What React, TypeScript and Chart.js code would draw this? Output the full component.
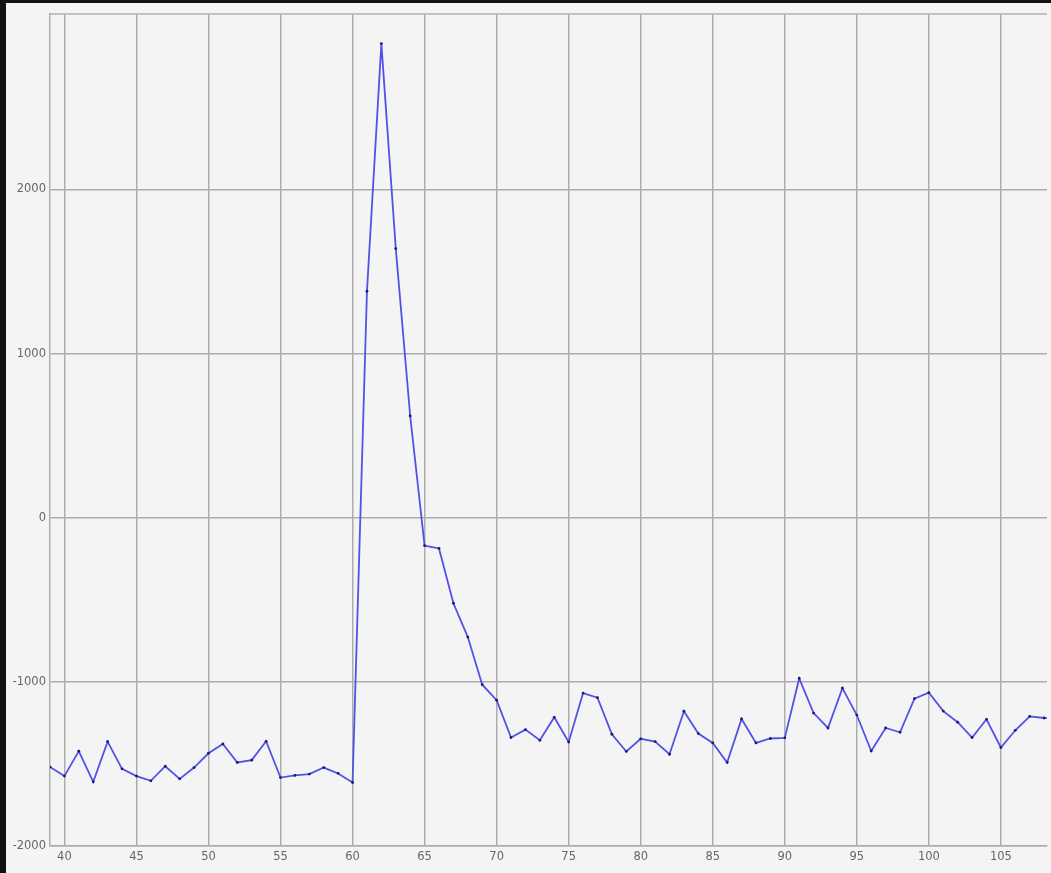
import React, { useEffect, useRef } from "react";
import { Chart, registerables } from "chart.js";

Chart.register(...registerables);

const xValues = [
  39, 40, 41, 42, 43, 44, 45, 46, 47, 48, 49, 50, 51, 52, 53, 54, 55, 56, 57, 58, 59,
  60, 61, 62, 63, 64, 65, 66, 67, 68, 69, 70, 71, 72, 73, 74, 75, 76, 77, 78, 79,
  80, 81, 82, 83, 84, 85, 86, 87, 88, 89, 90, 91, 92, 93, 94, 95, 96, 97, 98, 99,
  100, 101, 102, 103, 104, 105, 106, 107, 108, 109,
];

const yValues = [
  -1518, -1574, -1422, -1609, -1364, -1530, -1574, -1603, -1514, -1591, -1522,
  -1435, -1378, -1491, -1477, -1362, -1583, -1570, -1562, -1522, -1558,
  -1613, 1380, 2889, 1640, 620, -170, -187, -521, -727, -1017,
  -1112, -1339, -1291, -1356, -1216, -1366, -1068, -1096, -1319, -1424,
  -1347, -1364, -1441, -1179, -1315, -1372, -1491, -1226, -1372, -1345,
  -1341, -979, -1190, -1281, -1038, -1202, -1421, -1281, -1307, -1102,
  -1066, -1178, -1246, -1339, -1228, -1400, -1295, -1210, -1220, -1225,
];

const xTicks = [40, 45, 50, 55, 60, 65, 70, 75, 80, 85, 90, 95, 100, 105];
const yTicks = [-2000, -1000, 0, 1000, 2000];

const topBorderPlugin = {
  id: "topBorder",
  afterDraw(chart: any) {
    const { ctx, chartArea } = chart;
    ctx.save();
    ctx.strokeStyle = "#b0b0b0";
    ctx.lineWidth = 1.5;
    ctx.beginPath();
    ctx.moveTo(chartArea.left, chartArea.top);
    ctx.lineTo(chartArea.right, chartArea.top);
    ctx.stroke();
    ctx.restore();
  },
};

export default function App() {
  const ref = useRef<HTMLCanvasElement | null>(null);

  useEffect(() => {
    if (!ref.current) return;
    const chart = new Chart(ref.current, {
      type: "line",
      data: {
        datasets: [
          {
            data: xValues.map((x, i) => ({ x, y: yValues[i] })),
            borderColor: "#5252e6",
            borderWidth: 1.8,
            pointRadius: 1.4,
            pointBackgroundColor: "#1c1c6a",
            pointBorderColor: "#1c1c6a",
            pointBorderWidth: 0,
            tension: 0,
          },
        ],
      },
      plugins: [topBorderPlugin],
      options: {
        animation: false,
        responsive: false,
        maintainAspectRatio: false,
        layout: { padding: { top: 9, right: 0, left: 0, bottom: 0 } },
        plugins: {
          legend: { display: false },
          tooltip: { enabled: false },
        },
        scales: {
          x: {
            type: "linear",
            min: 39,
            max: 108.2,
            afterBuildTicks: (scale: any) => {
              scale.ticks = xTicks.map((v) => ({ value: v }));
            },
            afterFit: (scale: any) => {
              scale.height = 27;
            },
            ticks: {
              color: "#666",
              font: { family: "DejaVu Sans", size: 11.5 },
              padding: 4,
              maxRotation: 0,
              autoSkip: false,
              callback: (v: any) => String(v),
            },
            grid: { color: "#adadad", lineWidth: 1.5, drawTicks: false },
            border: { color: "#adadad", width: 1.5 },
          },
          y: {
            type: "linear",
            min: -2000,
            max: 3070,
            afterBuildTicks: (scale: any) => {
              scale.ticks = yTicks.map((v) => ({ value: v }));
            },
            afterFit: (scale: any) => {
              scale.width = 44;
            },
            ticks: {
              color: "#666",
              font: { family: "DejaVu Sans", size: 11.5 },
              padding: 4,
              autoSkip: false,
              callback: (v: any) => String(v),
            },
            grid: { color: "#adadad", lineWidth: 1.5, drawTicks: false },
            border: { color: "#adadad", width: 1.5 },
          },
        },
      },
    });
    return () => chart.destroy();
  }, []);

  return (
    <div
      style={{
        position: "fixed",
        left: 0,
        top: 0,
        width: 1051,
        height: 873,
        background: "#121212",
        overflow: "hidden",
      }}
    >
      <div
        style={{
          position: "absolute",
          left: 6,
          top: 3,
          width: 1045,
          height: 870,
          background: "#f4f4f4",
        }}
      >
        <canvas ref={ref} width={1045} height={870} style={{ display: "block" }} />
      </div>
    </div>
  );
}
